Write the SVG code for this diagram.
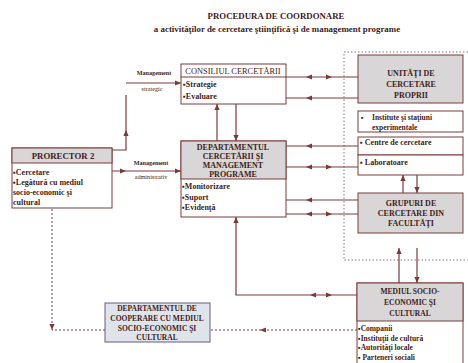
<svg xmlns="http://www.w3.org/2000/svg" width="468" height="363" viewBox="0 0 468 363">
<style>
text{font-family:"Liberation Serif","Times New Roman",serif;fill:#3f1c1c}
.b{font-weight:bold}
.box{fill:#ffffff;stroke:#7a3a3a;stroke-width:1}
.hdr{fill:#d8d6d6;stroke:#7a3a3a;stroke-width:1}
.coop{fill:#dfe4ea;stroke:#6a5a86;stroke-width:1}
.ln{fill:none;stroke:#7a3a3a;stroke-width:1.2}
.ds{fill:none;stroke:#7a3a3a;stroke-width:1;stroke-dasharray:2,2}
.dot{fill:none;stroke:#555;stroke-width:0.8;stroke-dasharray:1.5,2}
.ah{fill:#7a3a3a}
.t9{font-size:8.8px}
.t8{font-size:8px}
.t75{font-size:7.5px}
.t6{font-size:6.2px}
</style>
<defs>
<path id="ah" d="M0,0 L-6,-2.6 L-6,2.6 Z"/>
</defs>
<rect width="468" height="363" fill="#ffffff"/>

<g id="title">
<text class="t9 b" x="276" y="19" text-anchor="middle">PROCEDURA DE COORDONARE</text>
<text class="b" font-size="8.9px" x="277" y="32" text-anchor="middle">a activităţilor de cercetare ştiinţifică şi de management programe</text>
</g>

<g id="border">
<path class="dot" d="M468,52 H344 V260 H468"/>
</g>

<g id="connectors">
<path class="ln" d="M112,150 H126 V95"/>
<path class="ln" d="M126,83 H181"/>
<use href="#ah" class="ah" transform="translate(126,130) rotate(-90)"/>
<use href="#ah" class="ah" transform="translate(181,83)"/>
<path class="ln" d="M112,171 H181"/>
<use href="#ah" class="ah" transform="translate(126,171)"/>
<use href="#ah" class="ah" transform="translate(181,171)"/>
<path class="ln" d="M217,141 V104"/>
<use href="#ah" class="ah" transform="translate(217,104) rotate(-90)"/>
<path class="ln" d="M236,104 V141"/>
<use href="#ah" class="ah" transform="translate(236,141) rotate(90)"/>
<path class="ln" d="M286,77 H358"/>
<use href="#ah" class="ah" transform="translate(306,77) rotate(180)"/>
<use href="#ah" class="ah" transform="translate(332,77)"/>
<path class="ln" d="M286,98 H358"/>
<use href="#ah" class="ah" transform="translate(306,98) rotate(180)"/>
<path class="ln" d="M286,146 H358"/>
<use href="#ah" class="ah" transform="translate(306,146) rotate(180)"/>
<path class="ln" d="M286,167 H358"/>
<use href="#ah" class="ah" transform="translate(306,167) rotate(180)"/>
<use href="#ah" class="ah" transform="translate(332,167)"/>
<path class="ln" d="M286,200 H358"/>
<use href="#ah" class="ah" transform="translate(306,200) rotate(180)"/>
<path class="ln" d="M286,214 H358"/>
<use href="#ah" class="ah" transform="translate(306,214) rotate(180)"/>
<use href="#ah" class="ah" transform="translate(332,214)"/>
<path class="ln" d="M403,193 V175"/>
<use href="#ah" class="ah" transform="translate(403,175) rotate(-90)"/>
<path class="ln" d="M417,175 V193"/>
<use href="#ah" class="ah" transform="translate(417,193) rotate(90)"/>
<path class="ln" d="M399,283 V248"/>
<use href="#ah" class="ah" transform="translate(399,248) rotate(-90)"/>
<path class="ln" d="M417,248 V283"/>
<use href="#ah" class="ah" transform="translate(417,283) rotate(90)"/>
<path class="ln" d="M357,295 H236 V217"/>
<use href="#ah" class="ah" transform="translate(236,217) rotate(-90)"/>
<use href="#ah" class="ah" transform="translate(310,295) rotate(180)"/>
<use href="#ah" class="ah" transform="translate(332,295)"/>
<path class="ds" d="M357,330 H210"/>
<use href="#ah" class="ah" transform="translate(260,330) rotate(180)"/>
<path class="ds" d="M105,330 H52 V208"/>
<use href="#ah" class="ah" transform="translate(52,330) rotate(90)"/>
<text class="t6 b" x="154" y="75" text-anchor="middle">Management</text>
<text class="t6" x="152" y="91" text-anchor="middle">strategic</text>
<text class="t6 b" x="151" y="165" text-anchor="middle">Management</text>
<text class="t6" x="151" y="179" text-anchor="middle">administrativ</text>
</g>

<g id="consiliul">
<rect class="box" x="181" y="64" width="105" height="40"/>
<line x1="181" y1="77" x2="286" y2="77" stroke="#7a3a3a" stroke-width="1"/>
<text x="233" y="74" font-size="8.4px" text-anchor="middle">CONSILIUL CERCETĂRII</text>
<text class="t8 b" x="183" y="87">▪Strategie</text>
<text class="t8 b" x="183" y="99">▪Evaluare</text>
</g>

<g id="departament">
<rect class="box" x="181" y="141" width="105" height="76"/>
<rect class="hdr" x="181" y="141" width="105" height="38"/>
<text class="t8 b" x="233" y="150" text-anchor="middle">DEPARTAMENTUL</text>
<text class="t8 b" x="233" y="159" text-anchor="middle">CERCETĂRII ŞI</text>
<text class="t8 b" x="233" y="168" text-anchor="middle">MANAGEMENT</text>
<text class="t8 b" x="233" y="177" text-anchor="middle">PROGRAME</text>
<text class="t8 b" x="182" y="189">▪Monitorizare</text>
<text class="t8 b" x="182" y="200">▪Suport</text>
<text class="t8 b" x="182" y="210">▪Evidenţă</text>
</g>

<g id="prorector">
<rect class="box" x="12" y="148" width="100" height="60"/>
<rect class="hdr" x="12" y="148" width="100" height="15"/>
<text class="t9 b" x="63" y="159" text-anchor="middle">PRORECTOR 2</text>
<text class="t8 b" x="13" y="175">▪Cercetare</text>
<text class="t8 b" x="13" y="185">▪Legătură cu mediul</text>
<text class="t8 b" x="13" y="195">socio-economic şi</text>
<text class="t8 b" x="13" y="205">cultural</text>
</g>

<g id="unitati">
<rect class="hdr" x="358" y="55" width="105" height="48"/>
<text class="t8 b" x="411" y="76" text-anchor="middle">UNITĂŢI DE</text>
<text class="t8 b" x="411" y="87" text-anchor="middle">CERCETARE</text>
<text class="t8 b" x="411" y="98" text-anchor="middle">PROPRII</text>
</g>

<g id="institute">
<rect class="box" x="358" y="111" width="105" height="21"/>
<text class="t75 b" x="361" y="120">▪</text>
<text class="t75 b" x="372" y="120">Institute şi staţiuni</text>
<text class="t75 b" x="372" y="130">experimentale</text>
</g>

<g id="centre">
<rect class="box" x="358" y="137" width="105" height="18"/>
<text class="t8 b" x="360" y="145">▪ Centre de cercetare</text>
</g>

<g id="laboratoare">
<rect class="box" x="358" y="155" width="105" height="20"/>
<text class="t8 b" x="360" y="165">▪ Laboratoare</text>
</g>

<g id="grupuri">
<rect class="hdr" x="358" y="193" width="105" height="40"/>
<text class="t8 b" x="411" y="206" text-anchor="middle">GRUPURI DE</text>
<text class="t8 b" x="411" y="216" text-anchor="middle">CERCETARE DIN</text>
<text class="t8 b" x="411" y="226" text-anchor="middle">FACULTĂŢI</text>
</g>

<g id="mediul">
<rect class="box" x="357" y="283" width="106" height="90"/>
<rect class="hdr" x="357" y="283" width="106" height="38"/>
<text class="t75 b" x="410" y="294" text-anchor="middle">MEDIUL SOCIO-</text>
<text class="t75 b" x="410" y="305" text-anchor="middle">ECONOMIC ŞI</text>
<text class="t75 b" x="410" y="316" text-anchor="middle">CULTURAL</text>
<text class="t75 b" x="358" y="331">▪Companii</text>
<text class="t75 b" x="358" y="341">▪Instituţii de cultură</text>
<text class="t75 b" x="358" y="350">▪Autorităţi locale</text>
<text class="t75 b" x="358" y="360">▪ Parteneri sociali</text>
</g>

<g id="cooperare">
<rect class="coop" x="105" y="303" width="105" height="39"/>
<text class="t75 b" x="157" y="311" text-anchor="middle">DEPARTAMENTUL DE</text>
<text class="t75 b" x="157" y="321" text-anchor="middle">COOPERARE CU MEDIUL</text>
<text class="t75 b" x="157" y="331" text-anchor="middle">SOCIO-ECONOMIC ŞI</text>
<text class="t75 b" x="157" y="340" text-anchor="middle">CULTURAL</text>
</g>
</svg>
